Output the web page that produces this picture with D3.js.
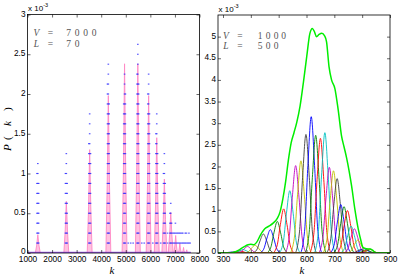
<!DOCTYPE html>
<html><head><meta charset="utf-8">
<script src="https://cdn.jsdelivr.net/npm/d3@7"></script>
<style>body{margin:0;background:#fff}svg{display:block}</style>
</head><body>
<svg id="c" width="399" height="279"></svg>
<script>
// ---------------- DATA ----------------
// left panel (V = 7000, L = 70)
const leftXTicks = [1000,2000,3000,4000,5000,6000,7000,8000];
const leftXTickLabels = ["1000","2000","3000","4000","5000","6000","7000","8000"];
const leftYTicks = [0,0.5,1,1.5,2,2.5,3];
const leftYTickLabels = ["0","0.5","1","1.5","2","2.5","3"];
// pink curve P(k) (x 1e-3)
const pinkK = [1000,
  1320,1375,1420,1465,1520,
  2480,2535,2580,2625,2680,
  3430,3485,3530,3575,3630,
  4190,4245,4290,4335,4390,
  4850,4905,4950,4995,5050,
  5390,5445,5490,5535,5590,
  5830,5885,5930,5975,6030,
  6160,6215,6260,6305,6360,
  6470,6525,6570,6615,6670,
  6730,6785,6830,6875,6930,
  6960,7000,7030,7060,7100,
  7140,7175,7200,7225,7260,
  7300,7330,7350,7370,7400,
  7440,7465,7480,7495,7520,
  7650];
const pinkP = [0,
  0,0.10,0.23,0.10,0,
  0,0.29,0.65,0.29,0,
  0,0.58,1.30,0.58,0,
  0,0.89,1.98,0.89,0,
  0,1.07,2.38,1.07,0,
  0,1.07,2.38,1.07,0,
  0,0.89,1.98,0.89,0,
  0,0.65,1.45,0.65,0,
  0,0.42,0.93,0.42,0,
  0,0.23,0.51,0.23,0,
  0,0.10,0.22,0.10,0,
  0,0.05,0.12,0.05,0,
  0,0.03,0.07,0.03,0,
  0,0.02,0.04,0.02,0,
  0];
// blue histogram points: column k and number of 0.125e-3 levels reached
const dotStep = 0.125;
const dotK = [1385,1420,1455,
  2545,2580,2615,
  3495,3530,3565,
  4255,4290,4325,
  4915,4950,4985,
  5100,5200,5300,
  5455,5490,5525,
  5650,5750,
  5895,5930,5965,
  6100,
  6225,6260,6295,
  6420,
  6535,6570,6605,
  6700,
  6795,6830,6865,
  6920,6970,7020,7070,7120,7170,7220,7270,7320,7370,7420,7470,7520,7570,7620];
const dotTop = [8,9,7,
  8,10,7,
  11,14,10,
  17,19,15,
  15,18,16,
  1,1,1,
  18,21,17,
  1,1,
  16,18,14,
  1,
  12,14,10,
  1,
  8,10,7,
  2,
  4,5,3,
  2,2,3,2,2,2,2,2,2,1,2,2,1,2,1];
const zeroSpan = [1000, 7650];

// right panel (V = 1000, L = 500)
const rightXTicks = [300,400,500,600,700,800,900];
const rightXTickLabels = ["300","400","500","600","700","800","900"];
const rightYTicks = [0,0.5,1,1.5,2,2.5,3,3.5,4,4.5,5];
const rightYTickLabels = ["0","0.5","1","1.5","2","2.5","3","3.5","4","4.5","5"];
const curveK = [
  [290,306,318,330,342,354,370],
  [305,321,333,345,357,369,385],
  [320,336,348,360,372,384,400],
  [332,348,360,372,384,396,412],
  [348,364,376,388,400,412,428],
  [375,391,403,415,427,439,455],
  [405,421,433,445,457,469,485],
  [430,446,458,470,482,494,510],
  [455,471,483,495,507,519,535],
  [478,494,506,518,530,542,558],
  [500,516,528,540,552,564,580],
  [521,537,549,561,573,585,601],
  [540,556,568,580,592,604,620],
  [558,574,586,598,610,622,638],
  [577,593,605,617,629,641,657],
  [593,609,621,633,645,657,673],
  [610,626,638,650,662,674,690],
  [626,642,654,666,678,690,706],
  [642,658,670,682,694,706,722],
  [657,673,685,697,709,721,737],
  [670,686,698,710,722,734,750],
  [683,699,711,723,735,747,763],
  [695,711,723,735,747,759,775],
  [707,723,735,747,759,771,787],
  [720,736,748,760,772,784,800],
  [732,748,760,772,784,796,812],
  [744,760,772,784,796,808,824],
  [756,772,784,796,808,820,836],
  [766,782,794,806,818,830,846],
  [775,791,803,815,827,839,855],
  [786,802,814,826,838,850,866]
];
const curveP = [
  [0,.003,.013,.02,.013,.003,0],
  [0,.005,.019,.03,.019,.005,0],
  [0,.008,.032,.05,.032,.008,0],
  [0,.013,.051,.08,.051,.013,0],
  [0,.024,.096,.15,.096,.024,0],
  [0,.029,.115,.18,.115,.029,0],
  [0,.07,.28,.44,.28,.07,0],
  [0,.086,.346,.54,.346,.086,0],
  [0,.117,.467,.73,.467,.117,0],
  [0,.163,.653,1.02,.653,.163,0],
  [0,.23,.92,1.44,.92,.23,0],
  [0,.323,1.29,2.02,1.29,.323,0],
  [0,.34,1.36,2.13,1.36,.34,0],
  [0,.44,1.75,2.74,1.75,.44,0],
  [0,.5,2.02,3.15,2.02,.5,0],
  [0,.435,1.74,2.72,1.74,.435,0],
  [0,.424,1.7,2.65,1.7,.424,0],
  [0,.445,1.78,2.78,1.78,.445,0],
  [0,.317,1.27,1.98,1.27,.317,0],
  [0,.304,1.22,1.9,1.22,.304,0],
  [0,.275,1.1,1.72,1.1,.275,0],
  [0,.18,.717,1.12,.717,.18,0],
  [0,.171,.685,1.07,.685,.171,0],
  [0,.157,.627,.98,.627,.157,0],
  [0,.1,.4,.62,.4,.1,0],
  [0,.09,.36,.56,.36,.09,0],
  [0,.048,.192,.3,.192,.048,0],
  [0,.013,.051,.08,.051,.013,0],
  [0,.016,.064,.1,.064,.016,0],
  [0,.011,.045,.07,.045,.011,0],
  [0,.014,.058,.09,.058,.014,0]
];
const envK = [282,330,345,360,375,390,400,410,420,435,450,465,480,495,505,515,525,535,545,555,565,577,589,601,612,621,628,636,645,655,665,672,681,690,702,714,726,735,744,753,762,774,786,795,803,815,830,840,852,900];
const envP = [0,0,0.03,0.08,0.14,0.19,0.2,0.19,0.24,0.42,0.56,0.62,0.69,0.8,0.95,1.25,1.65,2.15,2.55,2.78,3.02,3.4,3.95,4.55,5.07,5.19,5.12,5.0,5.05,5.08,5.02,4.88,4.3,4.0,3.8,3.3,2.7,2.45,2.2,1.9,1.55,1.0,0.55,0.3,0.13,0.1,0.09,0.05,0,0];

// ---------------- STYLE / LAYOUT ----------------
const palette = ["#0000ff","#008000","#ff0000","#00bfbf","#bf00bf","#bfbf00","#404040"];
const sans = "'Liberation Sans', Arial, sans-serif";
const serif = "'Liberation Serif','Times New Roman',serif";
const svg = d3.select("#c");

function panel(box, xDom, yDom, id){
  const x = d3.scaleLinear().domain(xDom).range([box.x0, box.x1]);
  const y = d3.scaleLinear().domain(yDom).range([box.y0, box.y1]);
  svg.append("clipPath").attr("id", id).append("rect")
    .attr("x", box.x0).attr("y", box.y1).attr("width", box.x1-box.x0).attr("height", box.y0-box.y1);
  const plot = svg.append("g").attr("clip-path", `url(#${id})`);
  return {x, y, plot};
}

function axes(p, box, xTicks, xLabels, yTicks, yLabels){
  const g = svg.append("g");
  const fmtX = d => xLabels[xTicks.indexOf(d)];
  const fmtY = d => yLabels[yTicks.indexOf(d)];
  const ax = [
    [d3.axisBottom(p.x).tickValues(xTicks).tickFormat(fmtX), `translate(0,${box.y0})`],
    [d3.axisTop(p.x).tickValues(xTicks).tickFormat(""), `translate(0,${box.y1})`],
    [d3.axisLeft(p.y).tickValues(yTicks).tickFormat(fmtY), `translate(${box.x0},0)`],
    [d3.axisRight(p.y).tickValues(yTicks).tickFormat(""), `translate(${box.x1},0)`]
  ];
  ax.forEach(([a, t], i) => {
    const s = g.append("g").attr("transform", t)
      .call(a.tickSizeInner(-3).tickSizeOuter(0).tickPadding(i===0?3.6:2));
    s.select(".domain").remove();
    s.selectAll("line").attr("stroke", "#000").attr("stroke-width", 0.6);
    s.selectAll("text").attr("font-family", sans).attr("font-size", 8.3).attr("fill", "#000");
    if(i===2) s.selectAll("text").attr("dy", d => d===0 ? "0em" : "0.2em");
  });
  g.append("rect").attr("x", box.x0).attr("y", box.y1)
    .attr("width", box.x1-box.x0).attr("height", box.y0-box.y1)
    .attr("fill", "none").attr("stroke", "#000").attr("stroke-width", 0.8);
  // x 10^-3
  const t = g.append("text").attr("x", box.x0+0.5).attr("y", box.y1-3.5)
    .attr("font-family", sans).attr("font-size", 8).attr("fill", "#000");
  t.append("tspan").text("x 10");
  t.append("tspan").attr("dy", -4).attr("font-size", 5.5).text("-3");
}

function note(x0, y0, tokens, offs){
  const t = svg.append("text").attr("font-family", serif).attr("font-size", 9.5).attr("fill", "#555");
  tokens.forEach((s,i)=>{
    t.append("tspan").attr("x", x0+offs[i]).attr("y", y0).attr("text-anchor","middle")
      .attr("font-style", /[A-Za-z]/.test(s) ? "italic" : "normal").text(s);
  });
}

// ---- Left panel ----
const LB = {x0:27.5, x1:199.5, y0:253, y1:14.5};
const pl = panel(LB, [1000,8000], [0,3], "clipL");
const pinkData = pinkK.map((k,i)=>[k, pinkP[i]]);
pl.plot.append("path").datum(pinkData)
  .attr("d", d3.area().x(d=>pl.x(d[0])).y0(pl.y(0)).y1(d=>pl.y(d[1])))
  .attr("fill", "#ffc2e0");
pl.plot.append("path").datum(pinkData)
  .attr("d", d3.line().x(d=>pl.x(d[0])).y(d=>pl.y(d[1])))
  .attr("fill", "none").attr("stroke", "#ff88c4").attr("stroke-width", 0.9);
// zero-count row
pl.plot.append("line").attr("x1", pl.x(zeroSpan[0])).attr("x2", pl.x(zeroSpan[1]))
  .attr("y1", pl.y(0)-0.6).attr("y2", pl.y(0)-0.6)
  .attr("stroke", "#8a40f0").attr("stroke-width", 1.4).attr("opacity", 0.8);
// blue dots
const dots = [];
dotK.forEach((k,i)=>{ for(let n=1;n<=dotTop[i];n++) dots.push([k, n*dotStep]); });
pl.plot.selectAll("rect.dot").data(dots).enter().append("rect").attr("class","dot")
  .attr("x", d=>pl.x(d[0])-0.8).attr("y", d=>pl.y(d[1])-0.55)
  .attr("width", 1.6).attr("height", 1.1).attr("fill", "#3030ff").attr("opacity", 0.85);
axes(pl, LB, leftXTicks, leftXTickLabels, leftYTicks, leftYTickLabels);
note(LB.x0, 36, ["V","=","7","0","0","0"], [9, 23, 41, 49.5, 58, 66.5]);
note(LB.x0, 46.5, ["L","=","7","0"], [9, 23, 41, 49.5]);
svg.append("text").attr("x", (LB.x0+LB.x1)/2 - 1.5).attr("y", 273.5).attr("text-anchor","middle")
  .attr("font-family", serif).attr("font-style","italic").attr("font-size", 11).text("k");
// y label P ( k )
const yl = svg.append("text").attr("transform", "translate(11,151) rotate(-90)")
  .attr("font-family", serif).attr("font-size", 11).attr("fill","#000");
[["P",0,"italic"],["(",11,"normal"],["k",25,"italic"],[")",40,"normal"]].forEach(([s,o,st])=>{
  yl.append("tspan").attr("x", o).attr("y", 0).attr("font-style", st).text(s);
});

// ---- Right panel ----
const RB = {x0:218, x1:390, y0:253, y1:15};
const pr = panel(RB, [282,900], [0,5.5], "clipR");
const line = d3.line().x(d=>pr.x(d[0])).y(d=>pr.y(d[1])).curve(d3.curveMonotoneX);
const xd = pr.x.domain();
const order = curveK.map((_,i)=>i).filter(i=>i!==26).concat([26]);
order.forEach(i=>{
  const pts = [[xd[0],0]].concat(curveK[i].map((k,j)=>[k, curveP[i][j]])).concat([[xd[1],0]]);
  pr.plot.append("path").datum(pts).attr("d", line)
    .attr("fill","none").attr("stroke", palette[i%7]).attr("stroke-width", 0.9);
});
pr.plot.append("path").datum(envK.map((k,i)=>[k, envP[i]])).attr("d", line)
  .attr("fill","none").attr("stroke","#00ee00").attr("stroke-width",1.5);
axes(pr, RB, rightXTicks, rightXTickLabels, rightYTicks, rightYTickLabels);
note(RB.x0, 38.5, ["V","=","1","0","0","0"], [8, 22, 42, 50, 58, 65.5]);
note(RB.x0, 49, ["L","=","5","0","0"], [8, 22, 42, 50, 58]);
svg.append("text").attr("x", (RB.x0+RB.x1)/2 - 2).attr("y", 273.5).attr("text-anchor","middle")
  .attr("font-family", serif).attr("font-style","italic").attr("font-size", 11).text("k");
</script>
</body></html>
